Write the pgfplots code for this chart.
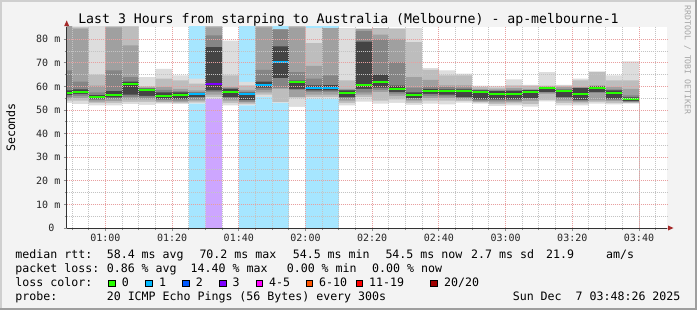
\documentclass[border=0pt]{standalone}
\usepackage{fontspec}
\setmainfont{DejaVu Sans Mono}
\usepackage{pgfplots}
\usepackage{pgfplotstable}
\pgfplotsset{compat=1.18}

\definecolor{bgc}{HTML}{F3F3F3}
\definecolor{shA}{HTML}{CFCFCF}
\definecolor{shB}{HTML}{9E9E9E}
\definecolor{lc0}{HTML}{26FF00}
\definecolor{lc1}{HTML}{00B8FF}
\definecolor{lc2}{HTML}{0059FF}
\definecolor{lc3}{HTML}{7E00FF}
\definecolor{lc5}{HTML}{FF00FF}
\definecolor{lc10}{HTML}{FF5500}
\definecolor{lc19}{HTML}{FF0000}
\definecolor{lc20}{HTML}{A10000}
\definecolor{bg1}{HTML}{A6E6FF}
\definecolor{bg3}{HTML}{CDA6FF}
\definecolor{s1}{HTML}{DDDDDD}
\definecolor{s2}{HTML}{BDBDBD}
\definecolor{s3}{HTML}{A0A0A0}
\definecolor{s4}{HTML}{858585}
\definecolor{s5}{HTML}{444444}
\definecolor{mgrid}{HTML}{E8A0A0}
\definecolor{ngrid}{HTML}{C4C4C4}
\definecolor{arrowc}{HTML}{A52A2A}

% smoke bands: b1..b5 upper edges (outer to inner), md median, a5..a1 lower edges (inner to outer), ls lost pings
\pgfplotstableread{
t    b1   b2   b3   b4   b5   md   a5   a4   a3   a2   a1   ls
45   90   90   90   66.8 58.3 57.2 56.3 55.5 54.8 54.0 53.0 0
50   85.5 85   84.5 62   58.8 57.6 56.8 56   55   54   52.5 0
55   90   65   60.4 57.5 56.3 55.5 54.8 54.2 53.6 53   52   0
60   86   85.5 85   66.8 58   56.2 55.4 54.6 53.8 53   52   0
65   86   85.5 77.4 64   62   61.0 56.5 55.5 54.5 53.5 52.5 0
70   64   60   59.6 59.3 59.1 58.6 56   55.3 54.5 53.5 52.2 0
75   67.5 63.3 59.7 58.5 57.5 55.9 54.8 54.2 53.6 53.2 52.7 0
80   64.7 62.6 59   58   57.5 56.2 54.6 54   53.5 53   52.5 0
85   63.3 61.2 58.3 57.6 57.3 56.8 55.5 54.5 54   53.3 52.7 1
90   86   86   85   81.6 76.7 61.1 58.3 57.6 56.5 55.5 54.8 3
95   79.4 64.7 59.7 59.3 59   57.6 55.5 54.8 54   53   52   0
100  61.9 60.5 58.5 57.8 57.4 56.9 54.2 53.6 53.2 52.6 52   1
105  86   86   85   67   62   60.7 59.5 58.5 57.5 56.5 55.5 1
110  84.2 84.2 84.2 84.2 77   70.2 63.5 59.3 59.0 53.4 53   1
115  86   86   85   66.1 62.5 62.0 59   58.5 55.5 55.3 51.3 0
120  84.7 78.4 68.7 63.3 60.5 59.5 58.3 57.6 56.5 55.5 54.8 1
125  84.7 84.7 84.7 64.7 60.6 59.5 58.3 57.6 56.5 55.5 54.8 1
130  84.7 62.6 59   58.5 58.3 57.3 55.5 54.8 54   53   52   0
135  84.5 84.5 84.3 83.5 79   60.7 59   57.5 56.5 55.5 53.6 0
140  84.7 84.7 82   80   65   62.0 59.5 58.5 57.6 54   52.7 0
145  84.7 84.4 80.2 70.3 60.4 59.0 57.6 57   56   54.5 53   0
150  84.7 78.8 64   59.5 57.5 56.5 55   54.5 54   53   52.2 0
155  67.8 67   62.8 60   59   58.1 56.8 56   55   54   52.7 0
160  66.8 64.7 60.5 59.7 58.8 57.9 56.5 55.8 55   54   52.4 0
165  65.4 64.7 60.5 59.5 58.8 57.9 55.5 55   54.5 53.8 53.1 0
170  60.4 59.7 59   58.6 58.3 57.6 54.5 54   53.6 53.2 52.7 0
175  60.2 59.5 58.8 58.3 58   57.0 54.5 54   53.3 52.5 51.7 0
180  63   60.5 59.3 58.6 58.1 57.0 54.5 54   53.5 52.8 52   0
185  60.7 60.4 59   58.6 58.4 57.6 55   54.5 53.8 52.5 51.5 0
190  66.1 60.4 60   59.8 59.7 59.3 57.6 57.4 56.8 54.3 53.7 0
195  60.7 60.3 59.7 59   58.6 58.0 55.5 54.8 54   53   52   0
200  63.3 62.6 59.7 59.5 59.3 56.6 54.3 53.8 53.4 52.8 52   0
205  66.4 66.1 60.4 60.2 60   59.3 57.6 57.3 54.1 53.5 52.7 0
210  64.7 62.6 59.7 58.8 58.3 57.2 54.8 54.3 53.8 53   52.4 0
215  70.6 62.6 59   56.2 55.4 54.5 53.8 53.5 53.2 53   52.7 0
220  70.6 62.6 59   56.2 55.4 54.5 53.8 53.5 53.2 53   52.7 9
}\smoke

\newcommand{\lfont}{\fontsize{11.6bp}{14bp}\selectfont}

\begin{document}
\begin{tikzpicture}[x=1bp,y=1bp]
\useasboundingbox (0,0) rectangle (697,310);
\fill[bgc] (0,0) rectangle (697,310);
\fill[shA] (0,0) rectangle (2,310);
\fill[shA] (0,308) rectangle (697,310);
\fill[shB] (695,0) rectangle (697,310);
\fill[shB] (0,0) rectangle (697,2);

\begin{axis}[
  at={(66.7bp,82bp)}, anchor=south west,
  scale only axis, width=600.3bp, height=201bp,
  xmin=48.4, xmax=228.4, ymin=0, ymax=85.2,
  axis background/.style={fill=white},
  axis on top,
  axis lines*=left,
  axis line style={draw=black!80, line width=1bp},
  xtick={60,80,...,220},
  xticklabels={01:00,01:20,01:40,02:00,02:20,02:40,03:00,03:20,03:40},
  minor xtick={50,55,65,70,75,85,90,95,105,110,115,125,130,135,145,150,155,165,170,175,185,190,195,205,210,215,225},
  ytick={0,10,...,80},
  yticklabels={0~~,10 m,20 m,30 m,40 m,50 m,60 m,70 m,80 m},
  minor ytick={5,15,...,75},
  grid=both,
  major grid style={draw=mgrid, dash pattern=on 1bp off 1bp, line width=1bp},
  minor grid style={draw=ngrid, dash pattern=on 1bp off 1bp, line width=1bp},
  tick align=outside,
  major tick length=3bp, minor tick length=2bp,
  tick style={draw=black!45, line width=1bp},
  tick label style={font=\fontsize{10bp}{12bp}\selectfont, text=black!85},
  yticklabel style={anchor=east, inner sep=0pt, xshift=-3.2bp},
  xticklabel style={anchor=north, inner sep=0pt, yshift=-3bp},
]
% loss background, full height
\addplot[const plot, fill=bg1, draw=none] table[x=t, y expr={ifthenelse(\thisrow{ls}==1,100,0)}] {\smoke} \closedcycle;
\addplot[const plot, fill=bg3, draw=none] table[x=t, y expr={ifthenelse(\thisrow{ls}==3,100,0)}] {\smoke} \closedcycle;
% smoke, outer to inner and back
\addplot[const plot, fill=s1, draw=none] table[x=t, y=b1] {\smoke} \closedcycle;
\addplot[const plot, fill=s2, draw=none] table[x=t, y=b2] {\smoke} \closedcycle;
\addplot[const plot, fill=s3, draw=none] table[x=t, y=b3] {\smoke} \closedcycle;
\addplot[const plot, fill=s4, draw=none] table[x=t, y=b4] {\smoke} \closedcycle;
\addplot[const plot, fill=s5, draw=none] table[x=t, y=b5] {\smoke} \closedcycle;
\addplot[const plot, fill=s4, draw=none] table[x=t, y=a5] {\smoke} \closedcycle;
\addplot[const plot, fill=s3, draw=none] table[x=t, y=a4] {\smoke} \closedcycle;
\addplot[const plot, fill=s2, draw=none] table[x=t, y=a3] {\smoke} \closedcycle;
\addplot[const plot, fill=s1, draw=none] table[x=t, y=a2] {\smoke} \closedcycle;
\addplot[const plot, fill=white, draw=none] table[x=t, y=a1] {\smoke} \closedcycle;
% loss background below the smoke
\addplot[const plot, fill=bg1, draw=none] table[x=t, y expr={ifthenelse(\thisrow{ls}==1,\thisrow{a1},0)}] {\smoke} \closedcycle;
\addplot[const plot, fill=bg3, draw=none] table[x=t, y expr={ifthenelse(\thisrow{ls}==3,\thisrow{a1},0)}] {\smoke} \closedcycle;
% median rtt, coloured by loss
\addplot[draw=none, mark=none, restrict expr to domain={\thisrow{ls}}{0:0},
  error bars/.cd, x dir=both, x fixed=2.5, error mark=none,
  error bar style={draw=lc0, line width=2bp}]
  table[x expr=\thisrow{t}+2.5, y=md] {\smoke};
\addplot[draw=none, mark=none, restrict expr to domain={\thisrow{ls}}{1:1},
  error bars/.cd, x dir=both, x fixed=2.5, error mark=none,
  error bar style={draw=lc1, line width=2bp}]
  table[x expr=\thisrow{t}+2.5, y=md] {\smoke};
\addplot[draw=none, mark=none, restrict expr to domain={\thisrow{ls}}{3:3},
  error bars/.cd, x dir=both, x fixed=2.5, error mark=none,
  error bar style={draw=lc3, line width=2bp}]
  table[x expr=\thisrow{t}+2.5, y=md] {\smoke};
\end{axis}

% axis arrows
\fill[arrowc] (668,79.5) -- (673.5,82) -- (668,84.5) -- cycle;
\fill[arrowc] (64.2,284) -- (66.7,289.5) -- (69.2,284) -- cycle;

% title, axis label, watermark
\node[anchor=base, inner sep=0pt] at (348.5,286.5) {\fontsize{13.2bp}{16bp}\selectfont Last 3 Hours from starping to Australia (Melbourne) - ap-melbourne-1};
\node[anchor=base, rotate=90, inner sep=0pt] at (15,182.5) {\lfont Seconds};
\node[rotate=-90, inner sep=0pt, text=black!35] at (687.5,250) {\fontsize{8.2bp}{10bp}\selectfont RRDTOOL / TOBI OETIKER};

% legend
\begin{scope}[every node/.style={anchor=base west, inner sep=0pt}]
\node at (15.3,51.7) {\lfont median rtt:};
\node at (106.6,51.7) {\lfont 58.4 ms avg};
\node at (199.3,51.7) {\lfont 70.2 ms max};
\node at (292.6,51.7) {\lfont 54.5 ms min};
\node at (385.3,51.7) {\lfont 54.5 ms now};
\node at (471,51.7) {\lfont 2.7 ms sd};
\node at (546,51.7) {\lfont 21.9};
\node at (606,51.7) {\lfont am/s};

\node at (15.3,37.7) {\lfont packet loss:};
\node at (106.6,37.7) {\lfont 0.86 \% avg};
\node at (190.5,37.7) {\lfont 14.40 \% max};
\node at (286.6,37.7) {\lfont 0.00 \% min};
\node at (372,37.7) {\lfont 0.00 \% now};

\node at (15.3,23.5) {\lfont loss color:};
\node at (121.7,23.5) {\lfont 0};
\node at (159,23.5) {\lfont 1};
\node at (195.7,23.5) {\lfont 2};
\node at (232.3,23.5) {\lfont 3};
\node at (269,23.5) {\lfont 4-5};
\node at (319,23.5) {\lfont 6-10};
\node at (369,23.5) {\lfont 11-19};
\node at (444,23.5) {\lfont 20/20};

\node at (15.3,9.3) {\lfont probe:};
\node at (106.6,9.3) {\lfont 20 ICMP Echo Pings (56 Bytes) every 300s};
\node at (512.6,9.3) {\lfont Sun Dec\ \ 7 03:48:26 2025};
\end{scope}
\begin{scope}[line width=0.8bp, draw=black]
\filldraw[fill=lc0]  (108.3,23.2) rectangle +(6.8,6.8);
\filldraw[fill=lc1]  (145.7,23.2) rectangle +(6.8,6.8);
\filldraw[fill=lc2]  (182.3,23.2) rectangle +(6.8,6.8);
\filldraw[fill=lc3]  (219.3,23.2) rectangle +(6.8,6.8);
\filldraw[fill=lc5]  (256,23.2) rectangle +(6.8,6.8);
\filldraw[fill=lc10] (306,23.2) rectangle +(6.8,6.8);
\filldraw[fill=lc19] (356,23.2) rectangle +(6.8,6.8);
\filldraw[fill=lc20] (430.7,23.2) rectangle +(6.8,6.8);
\end{scope}
\end{tikzpicture}
\end{document}
